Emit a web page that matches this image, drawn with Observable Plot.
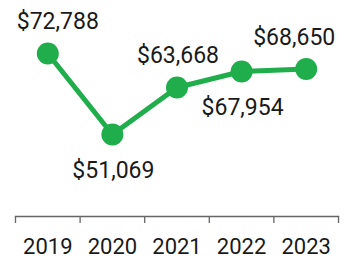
<!DOCTYPE html>
<html>
<head>
<meta charset="utf-8">
<script src="https://cdn.jsdelivr.net/npm/d3@7"></script>
<script src="https://cdn.jsdelivr.net/npm/@observablehq/plot@0.6"></script>
<style>
  html, body { margin: 0; padding: 0; background: #fff; }
  #chart svg { display: block; }
</style>
</head>
<body>
<div id="chart"></div>
<script>
const years = [2019, 2020, 2021, 2022, 2023];
const values = [72788, 51069, 63668, 67954, 68650];
const labels = ["$72,788", "$51,069", "$63,668", "$67,954", "$68,650"];

const data = years.map((year, i) => ({ year, value: values[i], label: labels[i], i }));
const edges = years.map(y => y - 0.5).concat([years[years.length - 1] + 0.5]);
const green = "#1fae4b";
const font = "Roboto, 'Noto Sans', sans-serif";

const above = d => d.i === 0 || d.i === 2 || d.i === 4;

const chart = Plot.plot({
  width: 346,
  height: 260,
  marginTop: 20,
  marginBottom: 44,
  marginLeft: 15,
  marginRight: 8,
  style: { fontFamily: font, background: "#fff" },
  x: { type: "linear", domain: [edges[0], edges[edges.length - 1]], label: null },
  y: { domain: [29080, 81640], axis: null },
  marks: [
    Plot.axisX({ ticks: edges, tickFormat: () => "", tickSize: 7, stroke: "#666", strokeWidth: 1.3, label: null }),
    Plot.frame({ anchor: "bottom", stroke: "#666", strokeWidth: 1.3 }),
    Plot.axisX({ ticks: years, tickFormat: d => String(d), tickSize: 0, tickPadding: 22, fontSize: 22, fill: "#1a1a1a", label: null }),
    Plot.line(data, { x: "year", y: "value", stroke: green, strokeWidth: 5 }),
    Plot.dot(data, { x: "year", y: "value", r: 11, fill: green }),
    Plot.text(data.filter(d => d.i === 0), { x: "year", y: "value", text: "label", dy: -32, dx: 10, fontSize: 23, fill: "#1a1a1a" }),
    Plot.text(data.filter(d => d.i === 2), { x: "year", y: "value", text: "label", dy: -32, dx: 1, fontSize: 23, fill: "#1a1a1a" }),
    Plot.text(data.filter(d => d.i === 4), { x: "year", y: "value", text: "label", dy: -31, dx: -12, fontSize: 23, fill: "#1a1a1a" }),
    Plot.text(data.filter(d => !above(d)), { x: "year", y: "value", text: "label", dy: 36, dx: 1, fontSize: 23, fill: "#1a1a1a" })
  ]
});
document.getElementById("chart").appendChild(chart);
</script>
</body>
</html>
